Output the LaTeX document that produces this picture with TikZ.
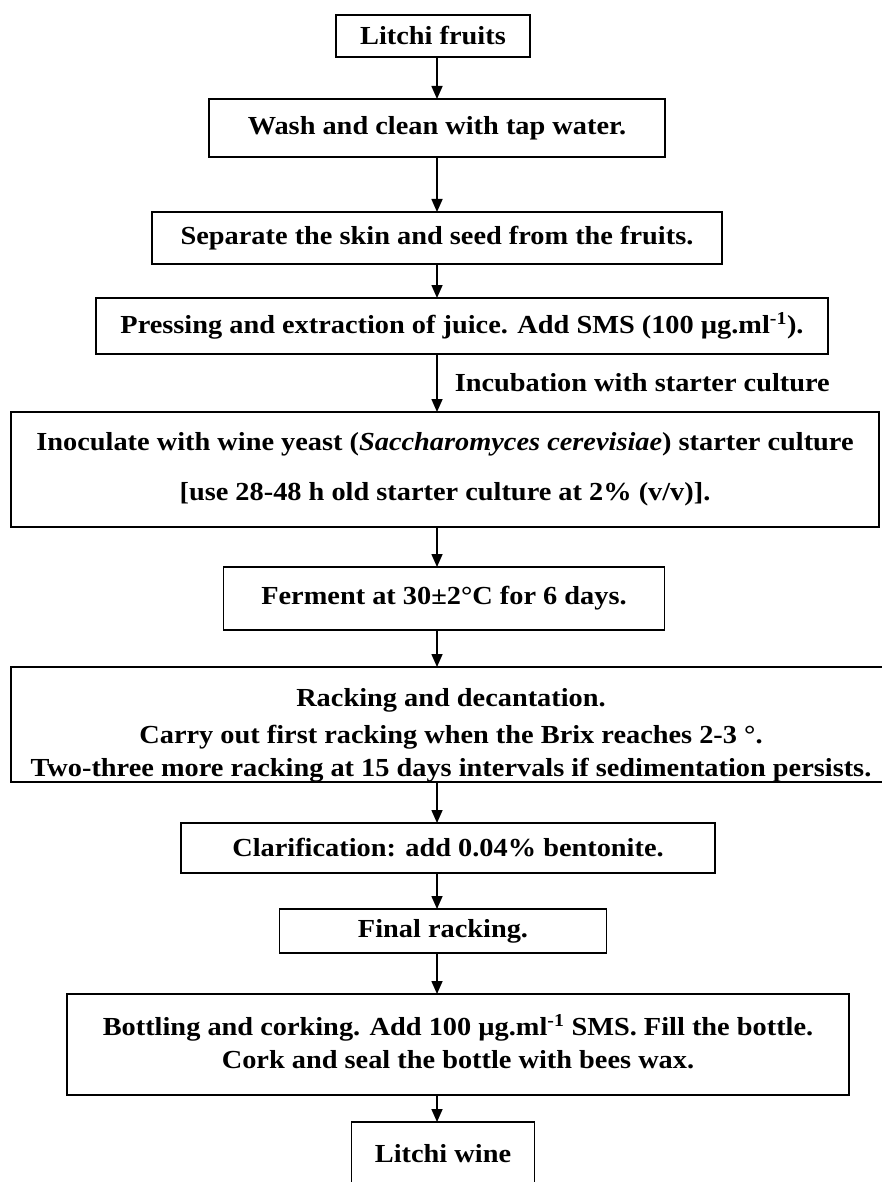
\documentclass[tikz,border=0pt]{standalone}
\usepackage{fontspec}
\setmainfont{Liberation Serif}[FakeStretch=1.09]
\usetikzlibrary{positioning,arrows.meta}

\begin{document}
\begin{tikzpicture}[
  x=1pt,y=1pt,
  font=\fontsize{26}{33}\selectfont\bfseries,
  box/.style={draw,line width=1.8pt,align=center,inner sep=0pt,outer sep=0pt},
  flow/.style={-{Triangle[length=13pt,width=11pt]},line width=1.6pt},
  note/.style={right,inner sep=0pt,xshift=17pt},
]
\clip (0,0) rectangle (882,-1182);
\coordinate (axis) at (437,0);

\node[box,minimum width=194pt,minimum height=42pt] (fruits) at (433,-36) {Litchi fruits};
\node[box,minimum width=456pt,minimum height=58pt,below=42pt of fruits,xshift=4pt] (wash)
  {Wash and clean with tap water.};
\node[box,minimum width=570pt,minimum height=52pt,below=55pt of wash] (skin)
  {Separate the skin and seed from the fruits.};
\node[box,minimum width=732pt,minimum height=56pt,below=34pt of skin,xshift=25pt] (press)
  {Pressing and extraction of juice. Add SMS (100 µg.ml\textsuperscript{-1}).};
\node[box,minimum width=868pt,minimum height=115pt,below=58pt of press,xshift=-17pt] (inoc)
  {Inoculate with wine yeast (\textit{Saccharomyces cerevisiae}) starter culture\\[17pt]
   [use 28-48 h old starter culture at 2\% (v/v)].};
\node[box,minimum width=441pt,minimum height=63pt,below=40pt of inoc,xshift=-1pt] (ferm)
  {Ferment at 30±2°C for 6 days.};
\node[box,minimum width=880pt,minimum height=115pt,below=37pt of ferm,xshift=7pt] (rack) {};
\node[align=center,inner sep=0pt,yshift=-11pt] (racktxt) at (rack.center)
  {Racking and decantation.\\[4pt]
   Carry out first racking when the Brix reaches 2-3 °.\\
   Two-three more racking at 15 days intervals if sedimentation persists.};
\node[box,minimum width=534pt,minimum height=50pt,below=41pt of rack,xshift=-3pt] (clar)
  {Clarification: add 0.04\% bentonite.};
\node[box,minimum width=327pt,minimum height=44pt,below=36pt of clar,xshift=-5pt] (final)
  {Final racking.};
\node[box,minimum width=782pt,minimum height=101pt,below=41pt of final,xshift=15pt] (bottle) {};
\node[align=center,inner sep=0pt,yshift=3pt] (bottletxt) at (bottle.center)
  {Bottling and corking. Add 100 µg.ml\textsuperscript{-1} SMS. Fill the bottle.\\
   Cork and seal the bottle with bees wax.};
\node[box,minimum width=183pt,minimum height=64pt,below=27pt of bottle,xshift=-15pt] (wine)
  {Litchi wine};

%% arrows all run down one vertical line
\draw[flow] (fruits.south -| axis) -- (wash.north -| axis);
\draw[flow] (wash.south -| axis) -- (skin.north -| axis);
\draw[flow] (skin.south -| axis) -- (press.north -| axis);
\draw[flow] (press.south -| axis) -- node[note] {Incubation with starter culture} (inoc.north -| axis);
\draw[flow] (inoc.south -| axis) -- (ferm.north -| axis);
\draw[flow] (ferm.south -| axis) -- (rack.north -| axis);
\draw[flow] (rack.south -| axis) -- (clar.north -| axis);
\draw[flow] (clar.south -| axis) -- (final.north -| axis);
\draw[flow] (final.south -| axis) -- (bottle.north -| axis);
\draw[flow] (bottle.south -| axis) -- (wine.north -| axis);
\end{tikzpicture}
\end{document}
